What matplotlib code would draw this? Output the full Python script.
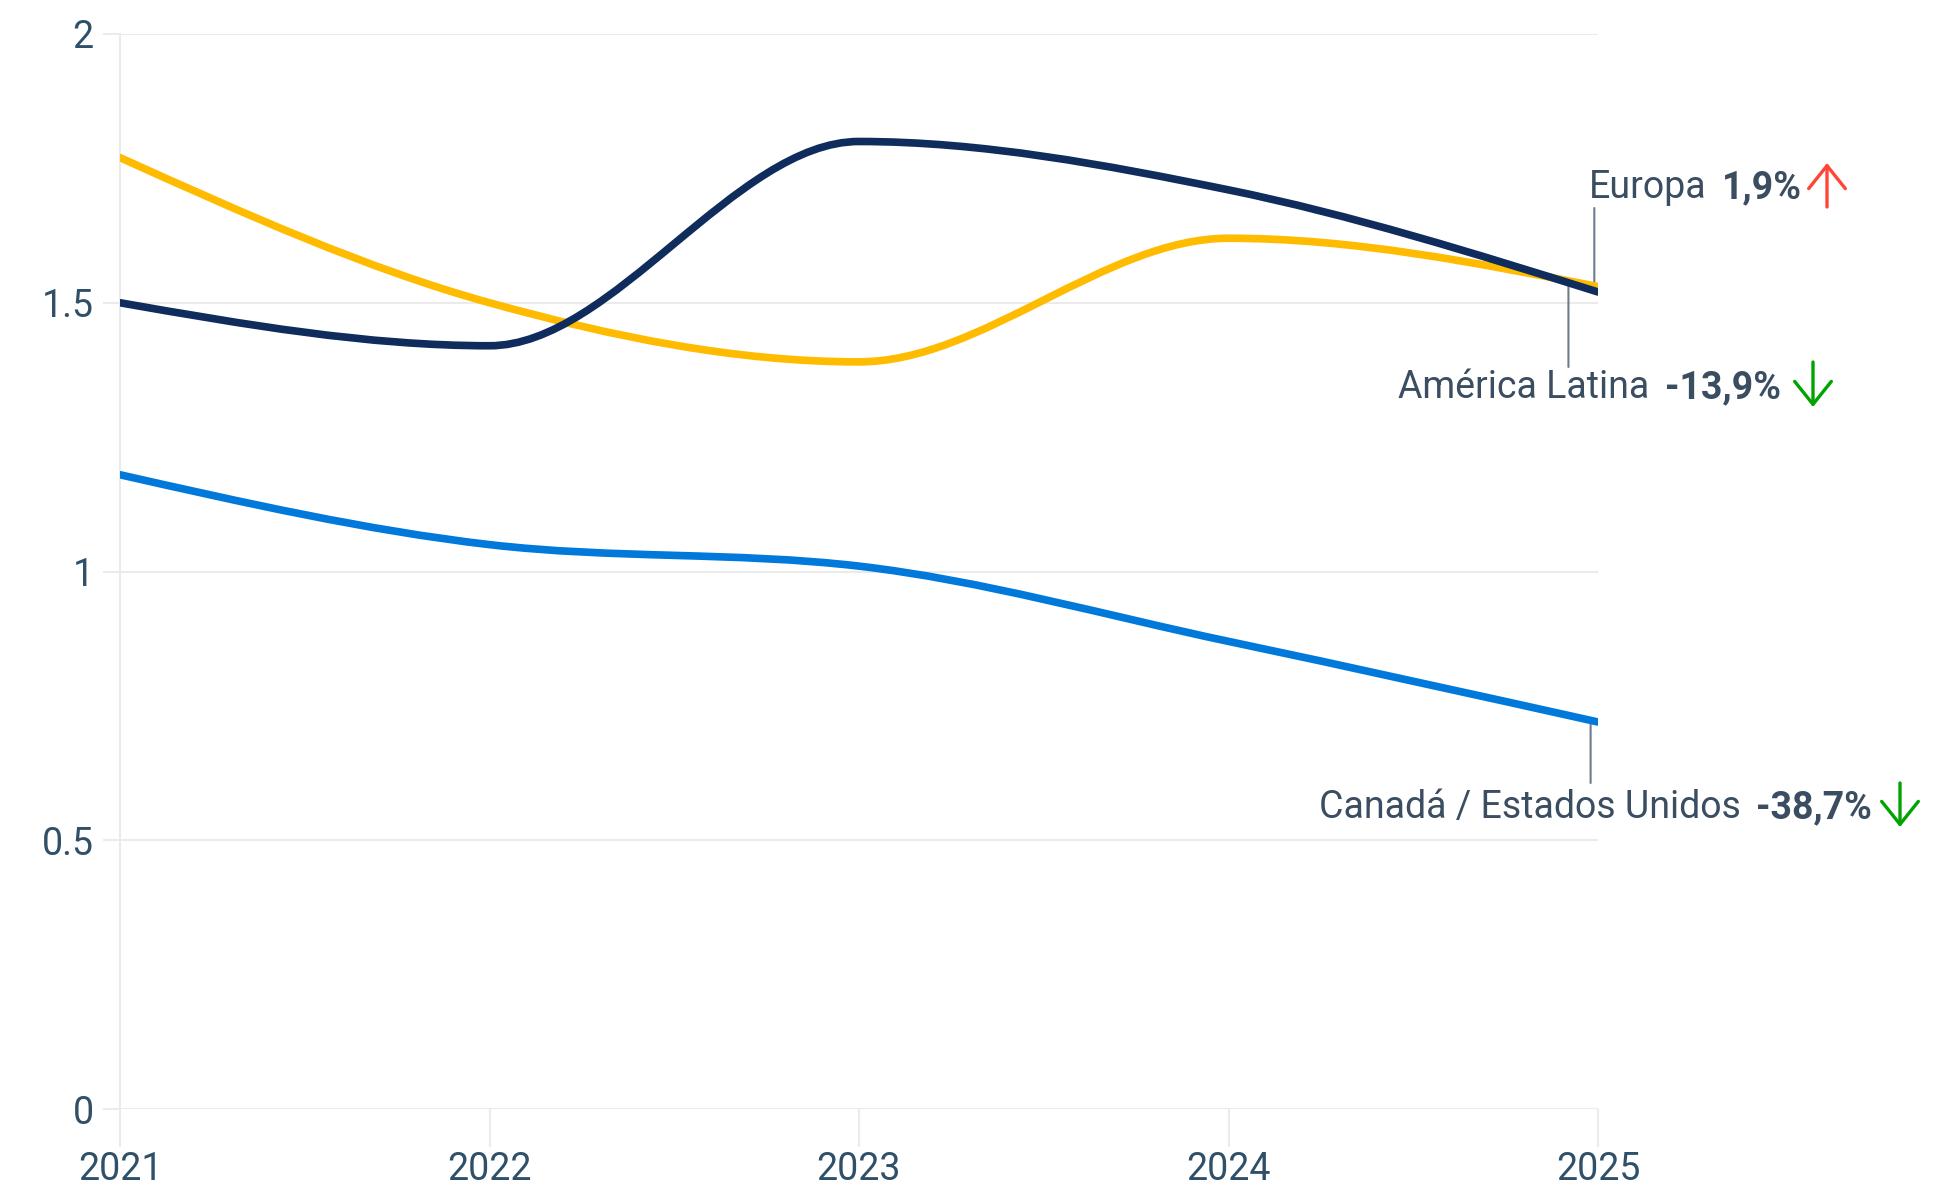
import numpy as np
import matplotlib
matplotlib.use("Agg")
import matplotlib.pyplot as plt
from matplotlib.path import Path
from matplotlib.patches import PathPatch, FancyArrowPatch

# ── data ──
years = [2021, 2022, 2023, 2024, 2025]
europa = [1.50, 1.42, 1.80, 1.71, 1.52]
latam = [1.77, 1.50, 1.39, 1.62, 1.53]
canada_usa = [1.18, 1.05, 1.01, 0.87, 0.72]

y_ticks = [0, 0.5, 1, 1.5, 2]
y_tick_labels = ["0", "0.5", "1", "1.5", "2"]

labels = ["Europa", "América Latina", "Canadá / Estados Unidos"]
changes = ["1,9%", "-13,9%", "-38,7%"]

NAVY = "#0f2c5c"
YELLOW = "#ffbb00"
BLUE = "#0079db"
TEXT = "#3b4d61"
TICK_TEXT = "#2f5068"
GRID = "#ebebeb"
CONNECTOR = "#6e7c8c"
UP = "#ff4536"
DOWN = "#00a300"

W, H = 1958, 1187
FS = 27

plt.rcParams["font.family"] = ["Roboto", "DejaVu Sans"]


def monotone_path(xs, ys):
    """Cubic bezier path with monotone-x tangents (same idea as d3 curveMonotoneX)."""
    xs = np.asarray(xs, float)
    ys = np.asarray(ys, float)
    n = len(xs)
    h = np.diff(xs)
    s = np.diff(ys) / h
    t = np.zeros(n)
    for i in range(1, n - 1):
        p = (s[i - 1] * h[i] + s[i] * h[i - 1]) / (h[i - 1] + h[i])
        t[i] = (np.sign(s[i - 1]) + np.sign(s[i])) * min(abs(s[i - 1]), abs(s[i]), 0.5 * abs(p))
    t[0] = (3 * s[0] - t[1]) / 2
    t[-1] = (3 * s[-1] - t[-2]) / 2
    verts = [(xs[0], ys[0])]
    codes = [Path.MOVETO]
    for i in range(n - 1):
        d = h[i] / 3
        verts += [(xs[i] + d, ys[i] + d * t[i]),
                  (xs[i + 1] - d, ys[i + 1] - d * t[i + 1]),
                  (xs[i + 1], ys[i + 1])]
        codes += [Path.CURVE4] * 3
    return Path(verts, codes)


fig = plt.figure(figsize=(W / 100, H / 100), dpi=100)
ax = fig.add_axes([120 / W, 1 - 1109 / H, (1598 - 120) / W, (1109 - 34) / H])

for series, color in [(canada_usa, BLUE), (latam, YELLOW), (europa, NAVY)]:
    patch = PathPatch(monotone_path(years, series), facecolor="none", edgecolor=color,
                      lw=5.5, capstyle="round", joinstyle="round", zorder=3)
    ax.add_patch(patch)

ax.set_xlim(2021, 2025)
ax.set_ylim(0, 2)
ax.set_xticks(years)
ax.set_xticklabels([str(y) for y in years])
ax.set_yticks(y_ticks)
ax.set_yticklabels(y_tick_labels)

for side in ["top", "right", "bottom"]:
    ax.spines[side].set_visible(False)
ax.spines["left"].set_color(GRID)
ax.spines["left"].set_linewidth(1.5)
ax.yaxis.grid(True, color=GRID, lw=1.5)
ax.set_axisbelow(True)
ax.tick_params(axis="x", length=27, width=1.5, color=GRID, pad=3,
               labelsize=FS, labelcolor=TICK_TEXT)
ax.tick_params(axis="y", length=12, width=1.5, color=GRID, pad=7,
               labelsize=FS, labelcolor=TICK_TEXT)

# ── end labels ──
# (label left px, baseline px, connector x, connector top px, anchor value, arrow centre x, arrow top px, arrow bottom px, up?)
ends = [
    (1589, 198, 2024.99, 208, europa[-1] + 0.015, 1827, 163, 207, True),
    (1398, 398, 2024.92, 367, latam[-1] + 0.01, 1813, 362, 407, False),
    (1319, 818, 2024.98, 783, canada_usa[-1], 1900, 783, 827, False),
]
for (lab, chg), (lx, by, cx, cy, anchor, ax_x, a_top, a_bot, up) in zip(zip(labels, changes), ends):
    ax.annotate("", xy=(cx, anchor), xycoords="data",
                xytext=(cx, H - cy), textcoords=("data", "figure pixels"),
                arrowprops=dict(arrowstyle="-", color=CONNECTOR, lw=1.5,
                                shrinkA=0, shrinkB=0), zorder=2)
    t1 = fig.text(lx / W, 1 - by / H, lab, fontsize=FS, color=TEXT, va="baseline", ha="left")
    ax.annotate(chg, xy=(1, 0), xycoords=t1, xytext=(11, 0), textcoords="offset points",
                fontsize=FS, fontweight="bold", color=TEXT, va="bottom", ha="left",
                annotation_clip=False)
    start, end = (a_bot, a_top) if up else (a_top, a_bot)
    color = UP if up else DOWN
    fig.add_artist(FancyArrowPatch(
        (ax_x, H - start), (ax_x, H - end), transform=None,
        arrowstyle="->,head_length=0.75,head_width=0.6", mutation_scale=22,
        color=color, lw=2.4, shrinkA=0, shrinkB=0))

fig.savefig("out.png", dpi=100, facecolor="white")
